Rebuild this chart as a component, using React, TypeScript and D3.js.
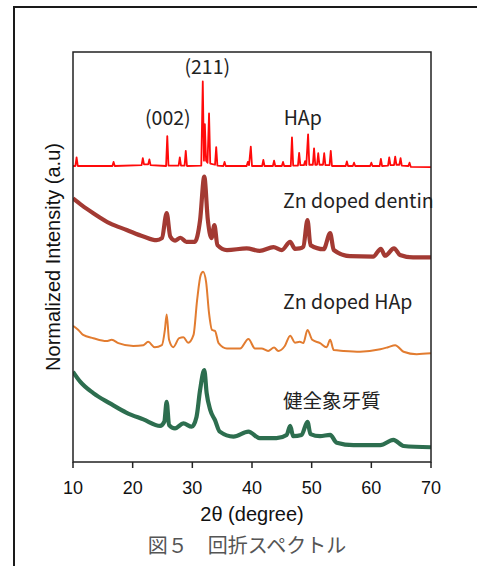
import React from "react";
import * as d3 from "d3";

// 2θ (degree), normalized intensity (a.u., 0-100 over plot height)
const xTicks = [10, 20, 30, 40, 50, 60, 70];

const hapData: [number, number][] = [
  [10, 72.2], [10.4, 72.2], [10.6, 74.3], [10.8, 72.2], [16.6, 72.2], [16.8, 73.2], [17.0, 72.2],
  [21.5, 72.4], [21.7, 74.1], [21.9, 72.6], [22.6, 72.6], [22.8, 73.8], [23.0, 72.4],
  [25.6, 72.2], [25.8, 79.5], [26.0, 72.3], [27.7, 72.3], [27.9, 74.3], [28.1, 72.3],
  [28.7, 72.3], [28.9, 75.9], [29.1, 72.2], [31.5, 72.3], [31.75, 92.8], [31.95, 73.5],
  [32.1, 82.4], [32.3, 73.5], [32.55, 73.0], [32.8, 85.0], [33.0, 72.8], [33.8, 72.5],
  [34.0, 76.8], [34.2, 72.3], [35.2, 72.2], [35.4, 73.2], [35.6, 72.2], [39.1, 72.2],
  [39.3, 73.2], [39.5, 72.4], [39.8, 76.9], [40.0, 72.2], [41.7, 72.2], [41.9, 73.7],
  [42.1, 72.2], [43.5, 72.2], [43.7, 73.5], [43.9, 72.2], [45.0, 72.2], [45.2, 73.2],
  [45.4, 72.2], [46.5, 72.2], [46.7, 79.2], [46.9, 72.3], [47.7, 72.3], [47.9, 75.4],
  [48.1, 72.4], [48.7, 72.4], [48.9, 73.4], [49.1, 72.4], [49.4, 79.9], [49.6, 72.5],
  [50.2, 72.5], [50.4, 76.5], [50.6, 72.5], [50.9, 72.5], [51.1, 75.3], [51.3, 72.5],
  [51.9, 72.5], [52.1, 75.3], [52.3, 72.4], [53.0, 72.4], [53.2, 75.9], [53.4, 72.2],
  [55.7, 72.2], [55.9, 73.3], [56.1, 72.2], [56.9, 72.2], [57.1, 73.0], [57.3, 72.2],
  [59.8, 72.2], [60.0, 73.0], [60.2, 72.2], [61.4, 72.2], [61.6, 73.9], [61.8, 72.2],
  [62.8, 72.3], [63.0, 74.3], [63.2, 72.4], [63.8, 72.4], [64.0, 74.5], [64.2, 72.5],
  [64.7, 72.5], [64.9, 74.1], [65.1, 72.3], [66.2, 72.2], [66.4, 73.0], [66.6, 72.0],
  [70, 71.9],
];

const znDentinData: [number, number][] = [
  [10, 64.3], [11.5, 62.6], [13.4, 60.7], [16.2, 58.2], [19.0, 56.6], [21.8, 55.0], [24.0, 54.1],
  [24.9, 54.6], [25.7, 60.7], [26.3, 55.0], [27.1, 54.0], [28.0, 54.7], [29.0, 53.7],
  [30.4, 53.7], [31.3, 59.0], [32.0, 69.6], [32.6, 59.0], [33.2, 54.6], [33.7, 57.8],
  [34.2, 52.9], [35.8, 51.7], [39.1, 52.1], [41.3, 51.5], [43.6, 52.4], [45.0, 51.7],
  [46.4, 53.7], [47.2, 52.0], [48.0, 52.1], [48.6, 52.5], [49.3, 59.0], [49.8, 52.9],
  [52.0, 51.9], [53.1, 55.8], [53.7, 51.7], [56.4, 50.2], [60.3, 50.1], [61.6, 52.0],
  [62.3, 50.3], [63.8, 52.1], [64.8, 50.5], [67.0, 49.9], [70, 49.9],
];

const znHapData: [number, number][] = [
  [10, 33.2], [10.9, 32.2], [11.7, 31.0], [13.4, 30.2], [15.6, 29.5], [16.5, 29.8],
  [17.6, 29.0], [20.1, 28.3], [21.8, 28.5], [22.6, 29.3], [23.7, 28.0], [24.9, 28.5],
  [25.4, 32.2], [25.7, 36.0], [26.1, 29.8], [26.8, 28.0], [27.8, 30.2], [28.5, 30.4],
  [29.3, 29.1], [30.2, 31.0], [30.8, 39.5], [31.4, 45.6], [31.8, 46.4], [32.3, 44.0],
  [32.8, 36.3], [33.3, 32.2], [33.8, 32.0], [34.4, 29.0], [35.8, 27.7], [38.0, 27.7],
  [39.4, 30.0], [40.5, 27.7], [41.6, 27.7], [42.7, 27.1], [43.7, 27.9], [44.4, 27.1],
  [45.5, 28.3], [46.4, 30.8], [47.2, 29.1], [48.0, 29.3], [48.6, 29.0], [49.3, 32.2],
  [50.1, 29.8], [51.4, 29.0], [52.5, 28.0], [53.1, 29.8], [53.7, 27.3], [55.3, 27.1],
  [58.1, 26.9], [61.5, 27.5], [62.8, 28.0], [64.0, 28.5], [65.4, 26.9], [67.6, 26.3],
  [70, 26.5],
];

const soundDentinData: [number, number][] = [
  [10, 22.0], [11.2, 19.6], [13.4, 16.8], [16.2, 14.3], [19.0, 12.0], [21.8, 10.4],
  [24.6, 8.8], [25.3, 9.8], [25.7, 14.7], [26.1, 9.0], [27.1, 8.2], [28.5, 9.4],
  [29.9, 8.6], [30.7, 11.0], [31.3, 17.6], [32.0, 22.4], [32.4, 16.8], [33.0, 12.7],
  [33.8, 10.2], [34.6, 7.4], [36.9, 6.2], [39.4, 7.4], [41.3, 5.8], [44.1, 5.8],
  [45.8, 6.6], [46.4, 8.8], [46.9, 6.3], [48.3, 6.6], [49.3, 9.8], [49.8, 6.8],
  [51.4, 6.3], [53.1, 6.6], [54.2, 4.7], [57.0, 4.1], [61.5, 4.1], [63.7, 5.4],
  [65.4, 3.9], [70, 3.6],
];

const seriesLabels = ["HAp", "Zn doped dentin", "Zn doped HAp", "健全象牙質"];
const peakLabels = ["(002)", "(211)"];
// label anchor positions in data units (2θ, intensity)
const peakLabelPos: [number, number][] = [[25.9, 82.2], [32.5, 94.6]];
const seriesLabelPos: [number, number][] = [[48.5, 82.2], [45.2, 62.0], [45.2, 37.3], [45.2, 13.2]];

const W = 477;
const H = 566;
const M = { left: 73, right: 431, top: 52, bottom: 462 };

export default function App() {
  const x = d3.scaleLinear().domain([10, 70]).range([M.left, M.right]);
  const y = d3.scaleLinear().domain([0, 100]).range([M.bottom, M.top]);
  const line = d3.line<[number, number]>().x((d) => x(d[0])).y((d) => y(d[1]));
  const smooth = d3
    .line<[number, number]>()
    .x((d) => x(d[0]))
    .y((d) => y(d[1]))
    .curve(d3.curveMonotoneX);

  const series = [
    { data: hapData, color: "#ff0a0a", width: 1.8, gen: line },
    { data: znDentinData, color: "#a33a33", width: 4.2, gen: smooth },
    { data: znHapData, color: "#e27c30", width: 2, gen: smooth },
    { data: soundDentinData, color: "#2d6e4f", width: 4.2, gen: smooth },
  ];

  const jp = '"Noto Sans CJK JP", "Noto Sans", sans-serif';
  const ar = '"Liberation Sans", Arial, sans-serif';

  return (
    <svg
      width={W}
      height={H}
      style={{ position: "absolute", left: 0, top: 0, background: "#fff" }}
    >
      <rect x={0} y={0} width={W} height={H} fill="#fff" />
      {/* outer frame */}
      <path d={`M14,${H} L14,7 L${W},7`} fill="none" stroke="#1a1a1a" strokeWidth={2} />
      <defs>
        <clipPath id="plotclip">
          <rect x={M.left} y={M.top} width={M.right - M.left} height={M.bottom - M.top} />
        </clipPath>
      </defs>
      <g clipPath="url(#plotclip)">
        {series.map((s, i) => (
          <path
            key={i}
            d={s.gen(s.data) || ""}
            fill="none"
            stroke={s.color}
            strokeWidth={s.width}
            strokeLinejoin="round"
          />
        ))}
      </g>
      {/* labels */}
      {peakLabels.map((t, i) => (
        <text
          key={t}
          x={x(peakLabelPos[i][0])}
          y={y(peakLabelPos[i][1])}
          textAnchor="middle"
          fontFamily={jp}
          fontSize={19.5}
          fill="#222"
        >
          {t}
        </text>
      ))}
      {seriesLabels.map((t, i) => (
        <text
          key={t}
          x={x(seriesLabelPos[i][0])}
          y={y(seriesLabelPos[i][1])}
          textAnchor={i === 0 ? "middle" : "start"}
          fontFamily={jp}
          fontSize={19.5}
          fill="#222"
        >
          {t}
        </text>
      ))}
      {/* plot box */}
      <rect
        x={M.left}
        y={M.top}
        width={M.right - M.left}
        height={M.bottom - M.top}
        fill="none"
        stroke="#222"
        strokeWidth={1.5}
      />
      {/* x axis ticks */}
      {xTicks.map((t) => (
        <g key={t}>
          <line x1={x(t)} x2={x(t)} y1={M.bottom} y2={M.bottom + 6} stroke="#222" strokeWidth={1.5} />
          <text x={x(t)} y={493.5} textAnchor="middle" fontFamily={ar} fontSize={18} fill="#111">
            {t}
          </text>
        </g>
      ))}
      <text x={(M.left + M.right) / 2} y={521} textAnchor="middle" fontFamily={ar} fontSize={20} fill="#111">
        2θ (degree)
      </text>
      <text
        transform={`translate(60,${(M.top + M.bottom) / 2}) rotate(-90)`}
        textAnchor="middle"
        fontFamily={ar}
        fontSize={20}
        fill="#111"
      >
        Normalized Intensity (a.u)
      </text>
      <text x={247} y={553} textAnchor="middle" fontFamily={jp} fontSize={20} fill="#555">
        図５　回折スペクトル
      </text>
    </svg>
  );
}
